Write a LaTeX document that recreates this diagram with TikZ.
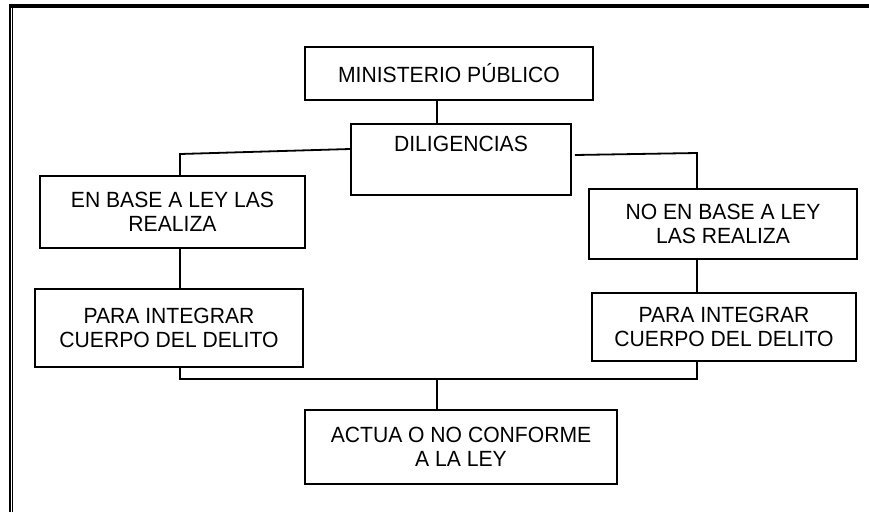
\documentclass[tikz,border=0pt]{standalone}
\usepackage{fontspec}
\setmainfont[FakeStretch=0.96]{Liberation Sans}
\begin{document}
\begin{tikzpicture}[x=1pt, y=-1pt,
    box/.style={draw, line width=1.8pt, align=center, inner sep=0pt,
        font=\fontsize{22}{24.5}\selectfont},
    link/.style={line width=1.8pt}]
    \useasboundingbox (0,0) rectangle (869,512);

    % Frame
    \draw[line width=4pt] (9,6) -- (869,6);
    \draw[line width=2pt] (10,4) -- (10,512);
    \draw[line width=1.3pt] (12.7,4) -- (12.7,512);

    % Nodes
    \node[box, minimum width=288, minimum height=53] (mp) at (449,73.5) {MINISTERIO PÚBLICO};
    \node[box, minimum width=220, minimum height=71] (dil) at (461,159.5) {DILIGENCIAS\\ \strut};
    \node[box, minimum width=265, minimum height=72] (enbase) at (172.5,212) {EN BASE A LEY LAS\\REALIZA};
    \node[box, minimum width=268, minimum height=78] (paraL) at (169,328) {PARA INTEGRAR\\CUERPO DEL DELITO};
    \node[box, minimum width=268, minimum height=70] (noen) at (723,224) {NO EN BASE A LEY\\LAS REALIZA};
    \node[box, minimum width=264, minimum height=68] (paraR) at (724,327) {PARA INTEGRAR\\CUERPO DEL DELITO};
    \node[box, minimum width=312, minimum height=74] (actua) at (461,447) {ACTUA O NO CONFORME\\A LA LEY};

    % Elbows
    \coordinate (trunk) at (437,0);
    \coordinate (lbranch) at (180,154);
    \coordinate (rbranch) at (697,153);
    \coordinate (lfoot) at (180,379);
    \coordinate (rfoot) at (697,379);
    \coordinate (bjoin) at (437,379);

    % Lines
    \draw[link] (mp.south -| trunk) -- (dil.north -| trunk);
    \draw[link] ([yshift=10.5pt]dil.west) -- (lbranch) -- (enbase.north -| lbranch);
    \draw[link] ([xshift=3pt,yshift=4.5pt]dil.east) -- (rbranch) -- (noen.north -| rbranch);
    \draw[link] (enbase.south -| lbranch) -- (paraL.north -| lbranch);
    \draw[link] (noen.south -| rbranch) -- (paraR.north -| rbranch);
    \draw[link] (paraL.south -| lfoot) -- (lfoot) -- (rfoot) -- (paraR.south -| rfoot);
    \draw[link] (bjoin) -- (actua.north -| bjoin);

\end{tikzpicture}
\end{document}
